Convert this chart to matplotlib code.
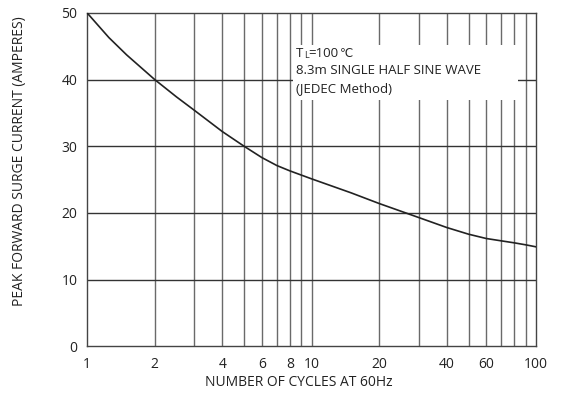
import matplotlib
matplotlib.use("Agg")
import matplotlib.pyplot as plt
from matplotlib.patches import Rectangle

# Data
cycles = [1, 1.25, 1.5, 2, 2.5, 3, 4, 5, 6, 7, 8, 10, 15, 20, 30, 40, 50, 60, 70, 80, 90, 100]
current = [50, 46.3, 43.7, 40, 37.4, 35.4, 32.2, 30.0, 28.3, 27.1, 26.3, 25.1, 23.0, 21.4,
           19.3, 17.8, 16.8, 16.15, 15.8, 15.5, 15.2, 14.9]

x_ticks = [1, 2, 4, 6, 8, 10, 20, 40, 60, 100]
x_ticklabels = ["1", "2", "4", "6", "8", "10", "20", "40", "60", "100"]
x_grid = [2, 3, 4, 5, 6, 7, 8, 9, 10, 20, 30, 40, 50, 60, 70, 80, 90]
y_ticks = [0, 10, 20, 30, 40, 50]
y_grid = [10, 20, 30, 40]

plt.rcParams['font.family'] = ['Open Sans', 'DejaVu Sans']
TXT = "#222222"

fig = plt.figure(figsize=(5.62, 4.03), dpi=100)
ax = fig.add_axes([0.155, 0.141, 0.799, 0.827])

for xv in x_grid:
    ax.axvline(xv, color="#6a6a6a", lw=1.0, zorder=1)
for yv in y_grid:
    ax.axhline(yv, color="#333333", lw=1.0, zorder=1)

ax.plot(cycles, current, color="#222222", lw=1.2, zorder=3)

ax.set_xscale("log")
ax.set_xlim(1, 100)
ax.set_ylim(0, 50)
ax.set_xticks(x_ticks)
ax.set_xticklabels(x_ticklabels)
ax.minorticks_off()
ax.set_yticks(y_ticks)
ax.tick_params(length=0, labelsize=10, colors=TXT)
ax.tick_params(axis="x", pad=8)
ax.tick_params(axis="y", pad=7)
for s in ax.spines.values():
    s.set_color("#444444")
    s.set_linewidth(1.0)

ax.set_xlabel("NUMBER OF CYCLES AT 60Hz", fontsize=10, color=TXT)
ax.set_ylabel("PEAK FORWARD SURGE CURRENT (AMPERES)", fontsize=10, color=TXT)
ax.xaxis.set_label_coords(0.471, -0.086)
ax.yaxis.set_label_coords(-0.133, 0.556)

ax.add_patch(Rectangle((0.459, 0.739), 0.50, 0.165, transform=ax.transAxes,
                       facecolor="white", edgecolor="none", zorder=2))
x0 = 0.465
t1 = ax.text(x0, 0.858, "T", transform=ax.transAxes, fontsize=9.5, va="bottom",
             ha="left", zorder=4, color=TXT)
t2 = ax.annotate("L", xy=(1, 0), xycoords=t1, xytext=(0.3, 0), textcoords="offset points",
                 fontsize=6.5, va="bottom", ha="left", zorder=4, color=TXT)
t3 = ax.annotate("=100", xy=(1, 0), xycoords=t2, xytext=(0.2, 0), textcoords="offset points",
                 fontsize=9.5, va="bottom", ha="left", zorder=4, color=TXT)
t4 = ax.annotate("℃", xy=(1, 0), xycoords=t3, xytext=(0.5, 0), textcoords="offset points",
                 fontsize=8.5, va="bottom", ha="left", zorder=4, color=TXT,
                 family=["DejaVu Sans"])
ax.text(x0, 0.828, "8.3m SINGLE HALF SINE WAVE", transform=ax.transAxes,
        fontsize=9.5, va="center", ha="left", zorder=4, color=TXT)
ax.text(x0, 0.774, "(JEDEC Method)", transform=ax.transAxes,
        fontsize=9.5, va="center", ha="left", zorder=4, color=TXT)

fig.savefig("out.png", dpi=100)
